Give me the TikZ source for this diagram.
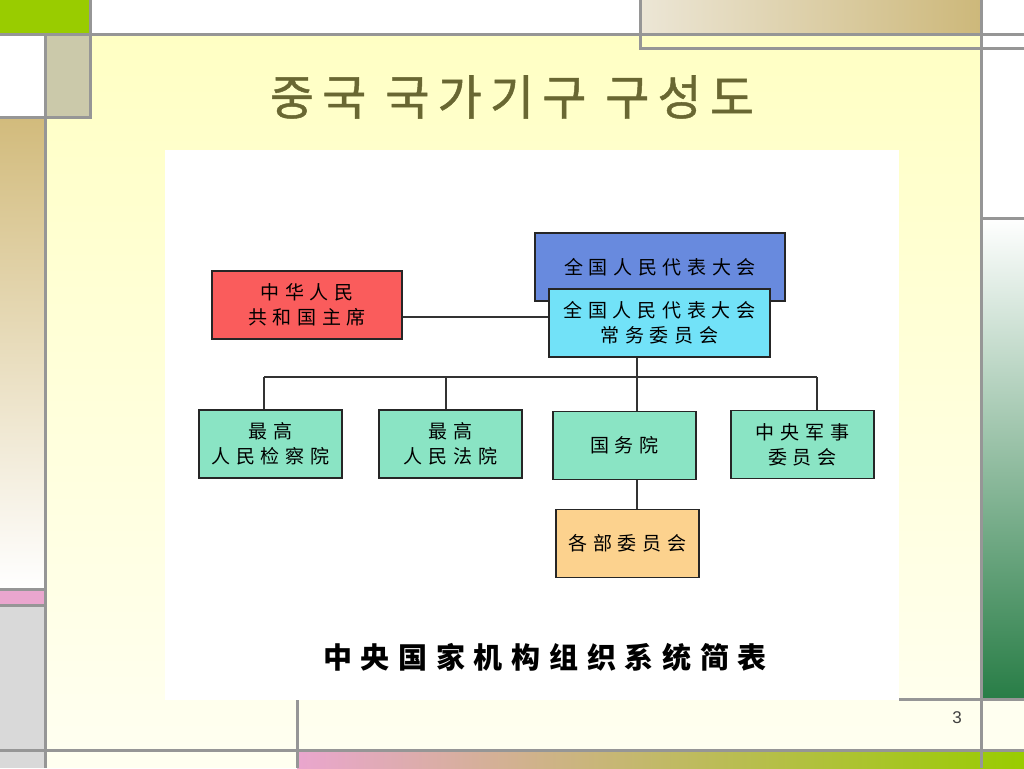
\documentclass[tikz,border=0pt]{standalone}
\usepackage{fontspec}
\usepackage{xcolor}
\usepackage{tikz}
\setsansfont{Liberation Sans}
\newfontfamily\cjk[LetterSpace=30]{Noto Sans CJK SC}
\newfontfamily\kor[LetterSpace=17, FakeBold=1]{Noto Sans CJK KR}
\definecolor{lineGray}{RGB}{150,150,150}
\definecolor{creamTop}{RGB}{255,255,196}
\definecolor{creamBot}{RGB}{255,255,240}
\definecolor{limeGreen}{RGB}{153,204,0}
\definecolor{khaki}{RGB}{203,201,170}
\definecolor{tanTop}{RGB}{210,187,124}
\definecolor{tanLight}{RGB}{236,230,214}
\definecolor{tanDark}{RGB}{205,184,122}
\definecolor{tanMid}{RGB}{212,184,150}
\definecolor{pinkBar}{RGB}{234,166,206}
\definecolor{lightGray}{RGB}{217,217,217}
\definecolor{darkGreen}{RGB}{40,125,70}
\definecolor{titleOlive}{RGB}{105,103,50}
\definecolor{presRed}{RGB}{250,92,92}
\definecolor{npcBlue}{RGB}{104,138,222}
\definecolor{npcCyan}{RGB}{114,226,248}
\definecolor{orgGreen}{RGB}{138,228,196}
\definecolor{deptOrange}{RGB}{252,210,142}

\begin{document}
\begin{tikzpicture}[x=1pt, y=-1pt,
  frame/.style={lineGray, line width=3pt},
  orgbox/.style={draw=black!85, line width=1.3pt, align=center,
    minimum width=143pt, minimum height=68pt, inner sep=0pt,
    font=\cjk\fontsize{19}{25}\selectfont},
  wire/.style={black!80, line width=1.3pt}]
\useasboundingbox (0,0) rectangle (1024,768);
%\draw[help lines, step=100] (0,0) grid (1024,768);
%==================== Sfondo ==================
\fill[white] (0,0) rectangle (1024,768);
\shade[top color=creamTop, bottom color=creamBot] (45,35) rectangle (981,750);
\fill[creamBot] (981,699) rectangle (1024,750);
\fill[creamBot] (45,750) rectangle (297,768);
\fill[limeGreen] (0,0) rectangle (90,35);
\fill[khaki] (45,35) rectangle (90,117);
\shade[top color=tanTop, bottom color=white] (0,117) rectangle (45,589);
\fill[pinkBar] (0,589) rectangle (45,605);
\fill[lightGray] (0,605) rectangle (45,768);
\shade[left color=tanLight, right color=tanDark] (640,0) rectangle (981,35);
\shade[top color=white, bottom color=darkGreen] (981,218) rectangle (1024,699);
\shade[left color=pinkBar, middle color=tanMid, right color=limeGreen] (297,750) rectangle (1024,768);
%==================== Linee ==================
\draw[frame] (0,35) -- (1024,35);
\draw[frame] (90,0) -- (90,117) -- (0,117);
\draw[frame] (45,35) -- (45,768);
\draw[frame] (640,0) -- (640,49) -- (1024,49);
\draw[frame] (981,0) -- (981,768);
\draw[frame] (981,218) -- (1024,218);
\draw[frame] (899,699) -- (1024,699);
\draw[frame] (0,589) -- (45,589);
\draw[frame] (0,605) -- (45,605);
\draw[frame] (0,750) -- (1024,750);
\draw[frame] (297,700) -- (297,768);
%==================== Titolo ==================
\node[titleOlive, font=\kor\fontsize{48}{48}\selectfont] (title) at (512,97) {중국 국가기구 구성도};
\fill[white] (165,150) rectangle (899,700);
%==================== Caselle ==================
\node[orgbox, fill=npcBlue, minimum width=250pt] (npc) at (660,267) {全国人民代表大会};
\node[orgbox, fill=npcCyan, minimum width=221pt] (npcsc) at (659.5,323) {全国人民代表大会\\常务委员会};
\node[orgbox, fill=presRed, minimum width=190pt] (pres) at (307,305) {中华人民\\共和国主席};
\node[orgbox, fill=orgGreen] (proc) at (270.5,444) {最高\\人民检察院};
\node[orgbox, fill=orgGreen] (court) at (450.5,444) {最高\\人民法院};
\node[orgbox, fill=orgGreen] (state) at (624.5,445.5) {国务院};
\node[orgbox, fill=orgGreen] (cmc) at (802.5,444.5) {中央军事\\委员会};
\node[orgbox, fill=deptOrange] (dept) at (627.5,543.5) {各部委员会};
%==================== Collegamenti ==================
\coordinate (b1) at (264,377);
\coordinate (b2) at (446,377);
\coordinate (b3) at (637,377);
\coordinate (b4) at (817,377);
\draw[wire] ([yshift=-12pt]pres.east) -- ([yshift=-12pt]pres.east -| npcsc.west);
\draw[wire] (npcsc.south -| b3) -- (b3);
\draw[wire] (b1) -- (b4);
\draw[wire] (b1) -- (b1 |- proc.north);
\draw[wire] (b2) -- (b2 |- court.north);
\draw[wire] (b3) -- (b3 |- state.north);
\draw[wire] (b4) -- (b4 |- cmc.north);
\draw[wire] (state.south -| b3) -- (b3 |- dept.north);
%==================== Didascalia ==================
\node[font=\cjk\bfseries\fontsize{29}{29}\selectfont] (caption) at (545,657) {中央国家机构组织系统简表};
\node[black!75, font=\sffamily\fontsize{17}{17}\selectfont] (pagenum) at (957,718) {3};
\end{tikzpicture}
\end{document}
